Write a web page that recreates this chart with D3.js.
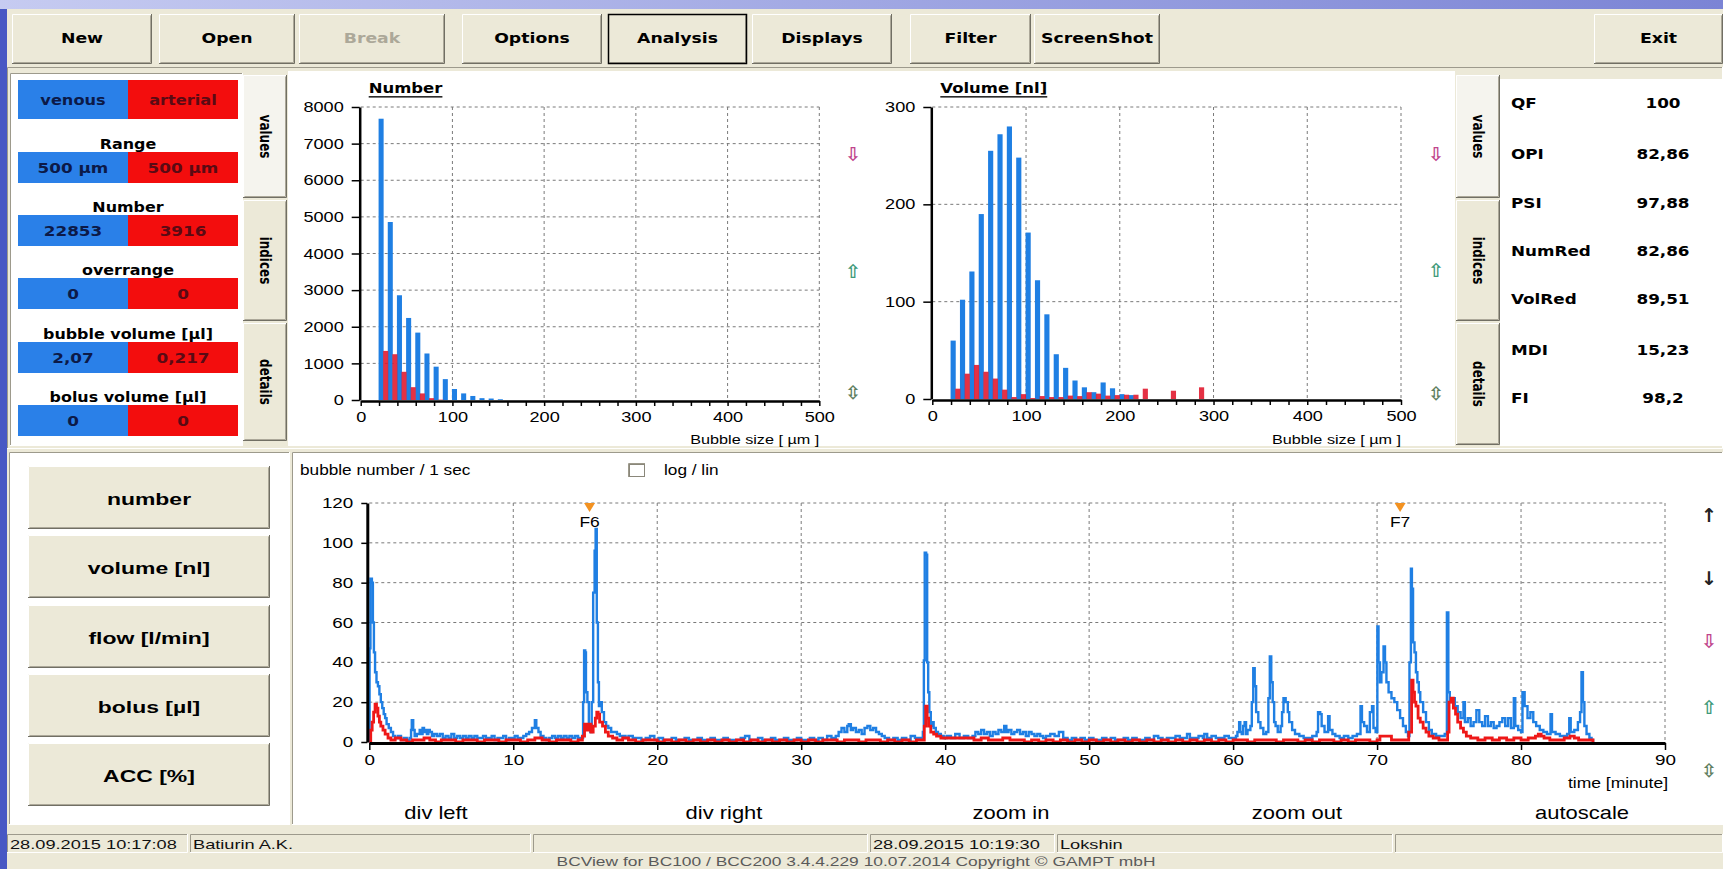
<!DOCTYPE html>
<html>
<head>
<meta charset="utf-8">
<script src="https://cdn.jsdelivr.net/npm/d3@7"></script>
<style>
  body { margin: 0; overflow: hidden; background: #6d7bd8; }
  svg { display: block; }
</style>
</head>
<body>
<svg id="app" width="1723" height="869"></svg>
<script>
// ---- data ----
const numberBins = [20, 30, 40, 50, 60, 70, 80, 90, 100, 110, 120, 130, 140, 150];
const numberVenous = [7680, 4860, 2860, 2240, 1840, 1270, 910, 570, 300, 180, 110, 50, 40, 20];
const numberArterial = [1340, 1250, 770, 350, 180, 50, 10, 0, 0, 0, 0, 0, 0, 0];

const volumeBins = [20, 30, 40, 50, 60, 70, 80, 90, 100, 110, 120, 130, 140, 150, 160, 170, 180, 190, 200, 210, 220, 230, 240, 250, 260, 270, 280, 290];
const volumeVenous = [60, 102, 131, 190, 255, 272, 280, 248, 171, 122, 87, 46, 32, 19, 12, 7, 17, 11, 5, 4, 0, 0, 0, 0, 0, 0, 0, 0];
const volumeArterial = [10.6, 26, 35, 28, 21, 9.6, 2, 5, 1, 3, 2, 2, 3.5, 3, 7, 5.5, 3.5, 4, 4.4, 4.4, 10.6, 0, 0, 8.5, 0, 0, 12, 0];

const bubbleTicks = [0, 100, 200, 300, 400, 500];
const numberTicks = [0, 1000, 2000, 3000, 4000, 5000, 6000, 7000, 8000];
const volumeTicks = [0, 100, 200, 300];
const timeTicks = [0, 10, 20, 30, 40, 50, 60, 70, 80, 90];
const countTicks = [0, 20, 40, 60, 80, 100, 120];

// bubble number per second, [minute, count]
const venousTrace = [[0,0],[0.02,47],[0.08,82],[0.18,80],[0.25,60],[0.32,45],[0.4,35],[0.5,30],[0.6,28],[0.7,24],[0.8,20],[0.9,17],[1.0,14],[1.1,12],[1.2,9],[1.35,7],[1.5,5],[1.65,3],[1.8,2],[2.0,3],[2.2,1],[2.4,2],[2.6,1],[2.8,2],
  [2.9,6],[2.95,11],[3.05,6],[3.15,3],[3.3,4],[3.5,6],[3.6,4],[3.7,7],[3.8,5],[3.9,6],[4.0,4],[4.1,6],[4.2,5],[4.35,3],[4.5,4],[4.7,3],[4.9,4],[5.1,2],[5.3,3],[5.5,2],[5.7,4],[5.9,2],[6.1,3],[6.3,2],[6.5,3],[6.7,2],[6.9,3],[7.1,2],[7.3,3],[7.5,2],[7.7,2],[7.9,3],[8.1,2],[8.3,2],[8.5,3],[8.7,1],[8.9,2],[9.1,2],[9.3,3],[9.5,1],[9.7,2],[9.9,2],[10.1,3],[10.3,2],[10.5,2],[10.7,3],[10.9,4],[11.1,5],[11.3,7],[11.5,11],[11.6,7],[11.75,5],[11.9,3],[12.1,2],[12.3,1],[12.5,2],[12.7,3],[12.9,2],[13.1,3],[13.3,2],[13.5,3],[13.7,2],[13.9,3],[14.1,2],[14.3,3],[14.5,2],[14.7,2],
  [14.85,20],[14.92,46],[15.0,45],[15.05,25],[15.15,20],[15.25,8],[15.35,5],[15.45,20],[15.55,75],[15.65,96],[15.72,107],[15.8,60],[15.88,30],[15.95,18],[16.05,20],[16.15,15],[16.3,10],[16.45,8],[16.6,7],[16.8,5],[17.0,5],[17.2,4],[17.4,3],[17.6,3],[17.8,2],[18.0,3],[18.3,2],[18.6,2],[18.9,1],[19.2,2],[19.5,3],[19.8,1],
  [20.1,2],[20.4,1],[20.7,1],[21.0,2],[21.3,1],[21.6,1],[21.9,2],[22.2,1],[22.5,1],[22.8,2],[23.1,1],[23.4,1],[23.7,2],[24.0,1],[24.3,1],[24.6,2],[24.9,1],[25.2,1],[25.5,1],[25.8,2],[26.1,3],[26.4,1],[26.7,1],[27.0,2],[27.3,1],[27.6,1],[27.9,2],[28.2,1],[28.5,1],[28.8,2],[29.1,1],[29.4,1],[29.7,2],
  [30.0,1],[30.3,1],[30.6,2],[30.9,1],[31.2,2],[31.5,1],[31.8,3],[32.1,2],[32.4,3],[32.6,5],[32.8,7],[33.0,5],[33.2,8],[33.3,9],[33.45,6],[33.6,7],[33.8,5],[34.0,6],[34.2,4],[34.4,7],[34.6,8],[34.8,6],[35.0,7],[35.2,5],[35.4,4],[35.6,3],[35.8,2],[36.1,1],[36.4,2],[36.7,1],[37.0,2],[37.3,1],[37.6,3],[37.9,2],[38.2,2],
  [38.45,5],[38.52,41],[38.58,95],[38.68,94],[38.75,40],[38.82,25],[38.9,15],[39.0,8],[39.1,10],[39.2,7],[39.35,5],[39.5,4],[39.7,3],[39.9,2],[40.1,3],[40.4,2],[40.7,4],[41.0,2],[41.3,3],[41.6,2],[41.9,3],[42.1,5],[42.3,4],[42.5,6],[42.7,4],[42.9,5],[43.1,3],[43.3,5],[43.5,4],[43.7,6],[43.9,5],[44.1,8],[44.25,5],[44.4,6],[44.6,4],[44.8,5],[45.0,6],[45.2,4],[45.4,5],[45.6,3],[45.8,5],[46.0,4],[46.2,3],[46.4,4],[46.6,3],[46.8,2],[47.0,3],[47.3,4],[47.6,3],[47.9,5],[48.2,2],[48.5,1],[48.8,2],[49.1,1],[49.4,2],[49.7,1],
  [50.0,2],[50.3,1],[50.6,1],[50.9,2],[51.2,1],[51.5,2],[51.8,1],[52.1,1],[52.4,2],[52.7,1],[53.0,2],[53.3,1],[53.6,1],[53.9,2],[54.2,1],[54.5,3],[54.8,2],[55.1,1],[55.4,2],[55.7,2],[56.0,3],[56.3,2],[56.6,2],[56.8,4],[57.0,2],[57.3,2],[57.6,3],[57.9,2],[58.0,4],[58.2,2],[58.5,3],[58.8,2],[59.1,2],[59.4,3],[59.7,2],
  [60.0,2],[60.2,3],[60.3,5],[60.42,10],[60.5,5],[60.6,4],[60.7,8],[60.8,10],[60.9,4],[61.0,6],[61.2,8],[61.3,20],[61.4,37],[61.5,28],[61.6,15],[61.75,10],[61.9,7],[62.1,4],[62.3,5],[62.45,22],[62.55,43],[62.65,30],[62.75,20],[62.85,10],[62.95,8],[63.1,5],[63.3,8],[63.4,15],[63.5,22],[63.65,20],[63.8,15],[63.9,10],[64.1,6],[64.3,4],[64.6,3],[64.9,2],[65.2,2],[65.5,3],[65.8,5],[65.9,15],[66.05,14],[66.15,8],[66.35,5],[66.6,13],[66.7,6],[66.9,4],[67.1,3],[67.4,2],[67.7,3],[68.0,2],[68.3,3],[68.6,4],[68.85,18],[68.95,10],[69.1,8],[69.3,5],[69.5,15],[69.65,18],[69.75,7],[69.9,5],
  [70.02,58],[70.1,40],[70.2,30],[70.3,35],[70.45,48],[70.55,40],[70.65,30],[70.8,25],[71.0,22],[71.2,20],[71.4,16],[71.6,12],[71.8,8],[72.0,5],[72.15,3],[72.25,40],[72.35,87],[72.42,77],[72.5,50],[72.6,45],[72.7,35],[72.8,30],[72.9,25],[73.0,20],[73.2,15],[73.4,10],[73.6,6],[73.8,4],[74.1,3],[74.4,3],[74.7,4],[74.85,65],[74.95,25],[75.05,20],[75.2,22],[75.4,18],[75.6,15],[75.8,12],[76.0,20],[76.1,10],[76.3,12],[76.5,8],[76.7,10],[76.9,16],[77.1,10],[77.3,8],[77.5,13],[77.7,8],[77.9,10],[78.1,7],[78.3,8],[78.5,10],[78.7,12],[78.9,8],[79.1,12],[79.3,7],[79.5,22],[79.6,8],[79.8,6],
  [80.0,5],[80.1,25],[80.25,18],[80.45,12],[80.65,15],[80.85,10],[81.05,8],[81.3,6],[81.55,5],[81.8,4],[82.05,14],[82.15,5],[82.4,4],[82.7,3],[83.0,3],[83.2,4],[83.35,12],[83.45,5],[83.7,6],[83.95,10],[84.1,15],[84.2,35],[84.3,20],[84.4,8],[84.55,4],[84.75,2],[84.9,1],[85.0,0]];

const arterialTrace = [[0,0],[0.1,6],[0.2,10],[0.3,15],[0.4,19],[0.5,17],[0.6,13],[0.7,10],[0.8,8],[0.95,6],[1.1,4],[1.3,2],[1.5,1],[1.8,2],[2.2,1],[2.6,0],[3.0,1],[3.4,1],[3.8,2],[4.2,1],[4.6,0],[5.0,1],[5.5,1],[6.0,0],[6.5,1],[7.0,1],[7.5,0],[8.0,1],[8.5,1],[9.0,0],[9.5,1],[10.0,1],[10.5,0],[11.0,1],[11.5,2],[12.0,1],[12.5,0],[13.0,1],[13.5,1],[14.0,0],[14.5,1],
  [14.8,3],[14.95,9],[15.1,6],[15.25,9],[15.4,5],[15.55,8],[15.7,12],[15.8,15],[15.9,14],[16.0,10],[16.2,8],[16.4,5],[16.6,3],[16.9,2],[17.2,1],[17.6,2],[18.0,1],[18.5,0],[19.0,1],[19.5,1],[20.0,0],[20.5,1],[21.0,0],[21.5,1],[22.0,0],[22.5,1],[23.0,0],[23.5,1],[24.0,0],[24.5,1],[25.0,0],[25.5,1],[26.0,0],[26.5,1],[27.0,0],[27.5,1],[28.0,0],[28.5,1],[29.0,0],[29.5,1],[30.0,0],[30.5,1],[31.0,0],[31.5,1],[32.0,1],[32.5,0],[33.0,1],[33.5,1],[34.0,0],[34.5,1],[35.0,1],[35.5,0],[36.0,1],[36.5,0],[37.0,1],[37.5,0],[38.0,1],[38.45,1],
  [38.55,8],[38.65,18],[38.75,12],[38.85,8],[39.0,5],[39.2,4],[39.4,3],[39.7,2],[40.0,2],[40.5,2],[41.0,2],[41.5,2],[42.0,1],[42.5,2],[43.0,1],[43.5,1],[44.0,2],[44.5,1],[45.0,1],[45.5,0],[46.0,1],[46.5,0],[47.0,1],[47.5,0],[48.0,1],[48.5,0],[49.0,1],[49.5,0],[50.0,1],[50.5,0],[51.0,1],[51.5,0],[52.0,1],[52.5,0],[53.0,1],[53.5,0],[54.0,1],[54.5,0],[55.0,1],[55.5,0],[56.0,1],[56.5,0],[57.0,1],[57.5,0],[58.0,1],[58.5,0],[59.0,1],[59.5,0],
  [60.0,1],[60.5,1],[61.0,0],[61.5,1],[62.0,1],[62.5,1],[63.0,0],[63.5,1],[64.0,1],[64.5,0],[65.0,1],[65.5,0],[66.0,1],[66.5,1],[67.0,0],[67.5,1],[68.0,0],[68.5,1],[69.0,1],[69.5,0],[70.0,1],[70.2,3],[70.5,3],[70.7,3],[71.0,1],[71.5,1],[72.0,1],
  [72.2,5],[72.4,31],[72.5,25],[72.6,20],[72.7,18],[72.85,12],[73.0,10],[73.2,7],[73.4,5],[73.6,3],[73.9,2],[74.3,1],[74.7,1],[74.9,5],[75.0,20],[75.15,22],[75.3,17],[75.45,14],[75.6,10],[75.8,7],[76.0,5],[76.2,3],[76.5,2],[77.0,1],[77.5,2],[78.0,1],[78.5,2],[79.0,1],[79.5,2],[80.0,1],[80.5,2],[81.0,3],[81.2,4],[81.4,3],[81.6,2],[82.0,1],[82.5,1],[83.0,2],[83.4,3],[83.7,2],[84.0,1],[84.5,1],[85.0,0]];

const markers = [{ name: 'F6', t: 15.3 }, { name: 'F7', t: 71.6 }];

const summaryRows = [
  ['Range', '500 µm', '500 µm'],
  ['Number', '22853', '3916'],
  ['overrange', '0', '0'],
  ['bubble volume [µl]', '2,07', '0,217'],
  ['bolus volume [µl]', '0', '0']
];
const indexNames = ['QF', 'OPI', 'PSI', 'NumRed', 'VolRed', 'MDI', 'FI'];
const indexValues = ['100', '82,86', '97,88', '82,86', '89,51', '15,23', '98,2'];

// ---- look ----
const svg = d3.select('#app');
const W = 1723, H = 869;
const SANS = '"Liberation Sans", Arial, sans-serif';
const BOLD = '"DejaVu Sans", Verdana, sans-serif';
const FACE = '#ece9d8';
const BLUE = '#1f7fe3', RED = '#ee1818';
const CELL_BLUE = '#2a80e8', CELL_RED = '#f30d0d';

function label(g, x, y, str, o = {}) {
  return g.append('text')
    .attr('transform', `translate(${x},${y}) scale(${o.sx || 1.25},1)` + (o.rotate ? ` rotate(${o.rotate})` : ''))
    .attr('text-anchor', o.anchor || 'start')
    .attr('dominant-baseline', 'central')
    .style('font-family', o.font || SANS)
    .style('font-size', (o.size || 13) + 'px')
    .style('font-weight', o.bold ? 'bold' : 'normal')
    .style('text-decoration', o.underline ? 'underline' : 'none')
    .attr('fill', o.fill || '#000')
    .text(str);
}

function raised(g, x, y, w, h, fill) {
  g.append('rect').attr('x', x).attr('y', y).attr('width', w).attr('height', h).attr('fill', fill || FACE);
  g.append('path').attr('d', `M${x + 0.5},${y + h - 1}V${y + 0.5}H${x + w - 1}`).attr('stroke', '#fff').attr('fill', 'none');
  g.append('path').attr('d', `M${x + 1.5},${y + h - 1.5}H${x + w - 1.5}V${y + 1.5}`).attr('stroke', '#aca899').attr('fill', 'none');
  g.append('path').attr('d', `M${x},${y + h - 0.5}H${x + w - 0.5}V${y}`).attr('stroke', '#716f64').attr('fill', 'none');
}

function sunken(g, x, y, w, h, fill) {
  g.append('rect').attr('x', x).attr('y', y).attr('width', w).attr('height', h).attr('fill', fill || '#fff');
  g.append('path').attr('d', `M${x + 0.5},${y + h - 1}V${y + 0.5}H${x + w - 1}`).attr('stroke', '#9d9a8c').attr('fill', 'none');
  g.append('path').attr('d', `M${x},${y + h - 0.5}H${x + w - 0.5}V${y}`).attr('stroke', '#fff').attr('fill', 'none');
}

// background + window face
const defs = svg.append('defs');
const bg = defs.append('linearGradient').attr('id', 'bg').attr('x1', 0).attr('x2', 1).attr('y1', 0).attr('y2', 0);
bg.append('stop').attr('offset', 0).attr('stop-color', '#c6cbf1');
bg.append('stop').attr('offset', 1).attr('stop-color', '#7b84d5');
svg.append('rect').attr('width', W).attr('height', H).attr('fill', 'url(#bg)');
svg.append('rect').attr('x', 0).attr('y', 9).attr('width', 7).attr('height', H - 9).attr('fill', '#4858c4');
svg.append('rect').attr('x', 7).attr('y', 9).attr('width', W - 7).attr('height', H - 9).attr('fill', FACE);

// toolbar
const toolbar = svg.append('g');
const buttons = [
  ['New', 12, 152], ['Open', 159, 295], ['Break', 299, 445, 'disabled'], ['Options', 462, 602],
  ['Analysis', 608, 747, 'focus'], ['Displays', 752, 892], ['Filter', 910, 1031], ['ScreenShot', 1034, 1160], ['Exit', 1594, 1723]
];
buttons.forEach(([name, x0, x1, state]) => {
  raised(toolbar, x0, 14, x1 - x0, 50);
  if (state === 'focus') {
    toolbar.append('rect').attr('x', x0 + 0.5).attr('y', 14.5).attr('width', x1 - x0 - 1).attr('height', 49)
      .attr('fill', 'none').attr('stroke', '#000').attr('stroke-width', 1.5);
  }
  label(toolbar, (x0 + x1) / 2, 39, name, {
    anchor: 'middle', font: BOLD, bold: true, size: 13.5, sx: 1.28,
    fill: state === 'disabled' ? '#aca899' : '#000'
  });
});

// ---- upper panel ----
const upper = svg.append('g');
sunken(upper, 7, 67, W - 7, 382, FACE);
upper.append('rect').attr('x', 288).attr('y', 71).attr('width', 1167).attr('height', 375).attr('fill', '#fff');

// left summary box
sunken(upper, 10, 73, 233, 373, '#fff');
upper.append('rect').attr('x', 18).attr('y', 80).attr('width', 110).attr('height', 39).attr('fill', CELL_BLUE);
upper.append('rect').attr('x', 128).attr('y', 80).attr('width', 110).attr('height', 39).attr('fill', CELL_RED);
label(upper, 73, 100, 'venous', { anchor: 'middle', font: BOLD, bold: true, size: 13.5, sx: 1.2, fill: '#0c1a48' });
label(upper, 183, 100, 'arterial', { anchor: 'middle', font: BOLD, bold: true, size: 13.5, sx: 1.2, fill: '#5a0a14' });
const rowTops = [152, 215, 278, 342, 405];
summaryRows.forEach(([name, v, a], i) => {
  const y0 = rowTops[i];
  label(upper, 128, y0 - 8, name, { anchor: 'middle', font: BOLD, bold: true, size: 13.5, sx: 1.18 });
  upper.append('rect').attr('x', 18).attr('y', y0).attr('width', 110).attr('height', 31).attr('fill', CELL_BLUE);
  upper.append('rect').attr('x', 128).attr('y', y0).attr('width', 110).attr('height', 31).attr('fill', CELL_RED);
  label(upper, 73, y0 + 16, v, { anchor: 'middle', font: BOLD, bold: true, size: 14, sx: 1.2, fill: '#0c1a48' });
  label(upper, 183, y0 + 16, a, { anchor: 'middle', font: BOLD, bold: true, size: 14, sx: 1.2, fill: '#5a0a14' });
});

function tabs(g, x, w, items) {
  items.forEach(([name, y0, y1, active]) => {
    raised(g, x, y0, w, y1 - y0, active ? '#f5f4ee' : FACE);
    label(g, x + w / 2 + 1, (y0 + y1) / 2, name, { anchor: 'middle', font: BOLD, bold: true, size: 12, sx: 1.35, rotate: 90 });
  });
}
tabs(upper, 243, 44, [['values', 75, 198, true], ['indices', 200, 321], ['details', 323, 441]]);
tabs(upper, 1456, 44, [['values', 75, 198, true], ['indices', 200, 321], ['details', 323, 445]]);

// right index panel
upper.append('rect').attr('x', 1500).attr('y', 79).attr('width', 223).attr('height', 367).attr('fill', '#fff');
const idxY = [103, 154, 203, 251, 299, 350, 398];
indexNames.forEach((n, i) => {
  label(upper, 1511, idxY[i], n, { font: BOLD, bold: true, size: 14, sx: 1.2 });
  label(upper, 1663, idxY[i], indexValues[i], { anchor: 'middle', font: BOLD, bold: true, size: 14, sx: 1.2 });
});

// little arrow icons
function icons(g, x, ys, glyphs) {
  glyphs.forEach((c, i) => {
    const col = { '⇩': '#c0448c', '⇧': '#3f9a7a', '⇳': '#5f7f62', '↑': '#222', '↓': '#222' }[c];
    label(g, x, ys[i], c, { anchor: 'middle', font: BOLD, bold: true, size: 19, sx: 1, fill: col });
  });
}
icons(upper, 853, [154, 271, 392], ['⇩', '⇧', '⇳']);
icons(upper, 1436, [154, 270, 393], ['⇩', '⇧', '⇳']);

// histograms
function histogram(o) {
  const g = svg.append('g');
  const x = d3.scaleLinear().domain([0, 500]).range([o.left, o.right]);
  const y = d3.scaleLinear().domain([0, o.max]).range([o.bottom, o.top]);

  g.append('g').selectAll('line').data(bubbleTicks.slice(1)).join('line')
    .attr('x1', d => x(d)).attr('x2', d => x(d)).attr('y1', o.top).attr('y2', o.bottom)
    .attr('stroke', '#7a7a7a').attr('stroke-dasharray', '3,3');
  g.append('g').selectAll('line').data(o.ticks.slice(1)).join('line')
    .attr('x1', o.left).attr('x2', o.right).attr('y1', d => y(d)).attr('y2', d => y(d))
    .attr('stroke', '#7a7a7a').attr('stroke-dasharray', '3,3');

  g.append('g').selectAll('rect').data(o.bins).join('rect')
    .attr('x', d => x(d - 0.5)).attr('width', x(5.5) - x(0))
    .attr('y', (d, i) => y(o.venous[i])).attr('height', (d, i) => y(0) - y(o.venous[i]))
    .attr('fill', BLUE);
  g.append('g').selectAll('rect').data(o.bins).join('rect')
    .attr('x', d => x(d + 4.5)).attr('width', x(5.5) - x(0))
    .attr('y', (d, i) => y(o.arterial[i])).attr('height', (d, i) => y(0) - y(o.arterial[i]))
    .attr('fill', '#e0142a').attr('fill-opacity', 0.88);

  const ya = g.append('g').attr('transform', `translate(${o.left - 1},0)`)
    .call(d3.axisLeft(y).tickValues(o.ticks).tickSize(8).tickSizeOuter(0).tickFormat(d3.format('d')));
  const xa = g.append('g').attr('transform', `translate(0,${o.bottom + 1})`)
    .call(d3.axisBottom(x).tickValues(d3.range(0, 501, 20)).tickSize(5).tickSizeOuter(0)
      .tickFormat(d => d % 100 === 0 ? d : ''));
  [ya, xa].forEach(a => {
    a.attr('font-family', SANS).attr('font-size', 14.5);
    a.select('.domain').attr('stroke', '#000').attr('stroke-width', 2.5);
    a.selectAll('.tick line').attr('stroke', '#000').attr('stroke-width', 1.5);
    a.selectAll('.tick text').attr('fill', '#000').attr('transform', 'scale(1.25,1)');
  });
  ya.selectAll('.tick text').attr('x', -16 / 1.25);
  xa.selectAll('.tick text').attr('y', 11);

  label(g, o.left + 8, 89, o.title, { font: BOLD, bold: true, size: 13.5, sx: 1.22, underline: true });
  label(g, o.right, 439, 'Bubble size [ µm ]', { anchor: 'end', size: 13.5, sx: 1.2 });
}

histogram({ left: 360.7, right: 819.3, bottom: 400, top: 107, max: 8000, ticks: numberTicks,
  bins: numberBins, venous: numberVenous, arterial: numberArterial, title: 'Number' });
histogram({ left: 932.3, right: 1401, bottom: 399, top: 107, max: 300, ticks: volumeTicks,
  bins: volumeBins, venous: volumeVenous, arterial: volumeArterial, title: 'Volume [nl]' });

// ---- lower panel ----
const low = svg.append('g');
sunken(low, 9, 452, 281, 373, '#fff');
['number', 'volume [nl]', 'flow [l/min]', 'bolus [µl]', 'ACC [%]'].forEach((n, i) => {
  const y0 = [466, 535, 605, 674, 743][i];
  raised(low, 28, y0, 242, 63);
  label(low, 149, y0 + 33, n, { anchor: 'middle', bold: true, size: 17, sx: 1.35 });
});

sunken(low, 292, 452, W - 292, 373, '#fff');
label(low, 300, 470, 'bubble number / 1 sec', { size: 14, sx: 1.23 });
sunken(low, 628, 463, 18, 15, '#fff');
low.append('rect').attr('x', 629.5).attr('y', 464.5).attr('width', 15).attr('height', 12).attr('fill', 'none').attr('stroke', '#8a877a');
label(low, 664, 470, 'log / lin', { size: 14, sx: 1.23 });

const tx = d3.scaleLinear().domain([0, 90]).range([369.3, 1665]);
const ty = d3.scaleLinear().domain([0, 120]).range([742, 503]);

low.append('g').selectAll('line').data(timeTicks.slice(1)).join('line')
  .attr('x1', d => tx(d)).attr('x2', d => tx(d)).attr('y1', ty(120)).attr('y2', ty(0))
  .attr('stroke', '#7a7a7a').attr('stroke-dasharray', '3,3');
low.append('g').selectAll('line').data(countTicks.slice(1)).join('line')
  .attr('x1', tx(0)).attr('x2', tx(90)).attr('y1', d => ty(d)).attr('y2', d => ty(d))
  .attr('stroke', '#7a7a7a').attr('stroke-dasharray', '3,3');

const trace = d3.line().x(d => tx(d[0])).y(d => ty(d[1])).curve(d3.curveStepAfter);
low.append('path').datum(venousTrace).attr('d', trace)
  .attr('fill', 'none').attr('stroke', BLUE).attr('stroke-width', 2.4);
low.append('path').datum(arterialTrace).attr('d', trace)
  .attr('fill', 'none').attr('stroke', RED).attr('stroke-width', 2.8);

const tya = low.append('g').attr('transform', `translate(${tx(0) - 2},0)`)
  .call(d3.axisLeft(ty).tickValues(countTicks).tickSize(6).tickSizeOuter(0));
const txa = low.append('g').attr('transform', `translate(0,${ty(0) + 1})`)
  .call(d3.axisBottom(tx).tickValues(timeTicks).tickSize(7).tickSizeOuter(0));
[tya, txa].forEach(a => {
  a.attr('font-family', SANS).attr('font-size', 14.5);
  a.select('.domain').attr('stroke', '#000').attr('stroke-width', 3);
  a.selectAll('.tick line').attr('stroke', '#000').attr('stroke-width', 1.5);
  a.selectAll('.tick text').attr('fill', '#000').attr('transform', 'scale(1.3,1)');
});
tya.selectAll('.tick text').attr('x', -14 / 1.3);
txa.selectAll('.tick text').attr('y', 12);

markers.forEach(m => {
  const mx = tx(m.t);
  low.append('path').attr('d', `M${mx - 5.5},503L${mx + 5.5},503L${mx},512Z`).attr('fill', '#f39221');
  label(low, mx, 522, m.name, { anchor: 'middle', size: 14.5, sx: 1.2 });
});

label(low, 1668, 783, 'time [minute]', { anchor: 'end', size: 14, sx: 1.25 });
[['div left', 436], ['div right', 724], ['zoom in', 1011], ['zoom out', 1297], ['autoscale', 1582]].forEach(([n, x]) => {
  label(low, x, 813, n, { anchor: 'middle', size: 18, sx: 1.22 });
});
icons(low, 1709, [515, 578, 641, 707, 770], ['↑', '↓', '⇩', '⇧', '⇳']);

// ---- status bar ----
const status = svg.append('g');
[[7, 188, '28.09.2015 10:17:08'], [190, 531, 'Batiurin A.K.'], [533, 868, ''], [870, 1055, '28.09.2015 10:19:30'],
 [1057, 1393, 'Lokshin'], [1395, 1723, '']].forEach(([x0, x1, s]) => {
  sunken(status, x0, 834, x1 - x0, 19, FACE);
  if (s) label(status, x0 + 3, 844, s, { size: 13, sx: 1.4, fill: '#111' });
});
label(status, 856, 862, 'BCView for BC100 / BCC200 3.4.4.229 10.07.2014  Copyright © GAMPT mbH',
  { anchor: 'middle', size: 12, sx: 1.45, fill: '#5a5a5a' });
</script>
</body>
</html>
